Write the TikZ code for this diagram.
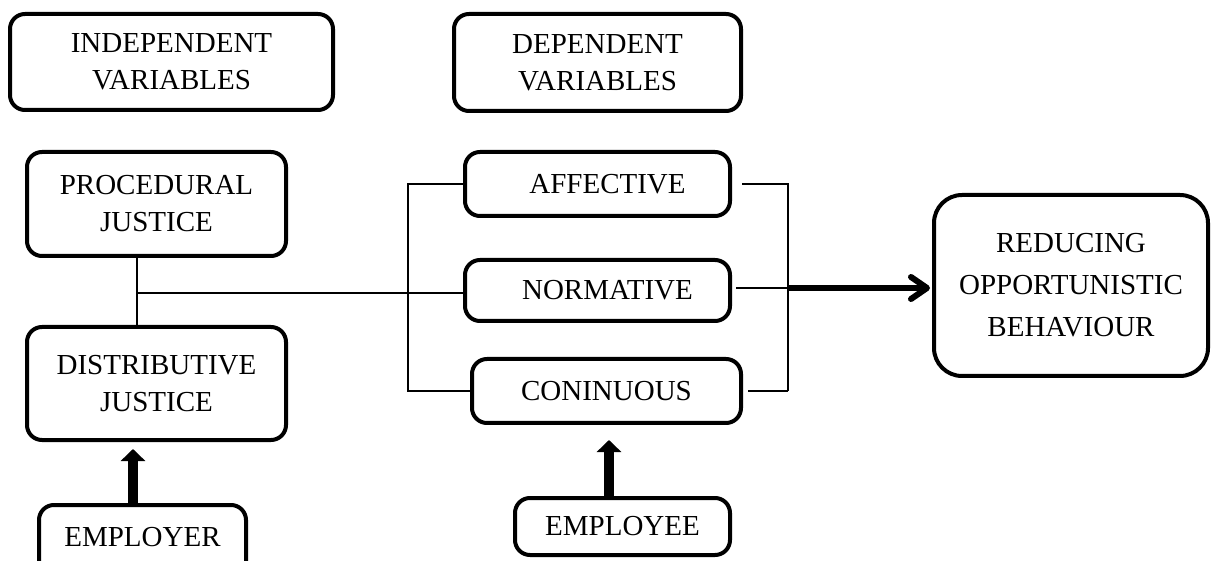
\documentclass[tikz,border=0pt]{standalone}
\usepackage{fontspec}
\setmainfont{Liberation Serif}
\usetikzlibrary{arrows.meta}
\begin{document}
\begin{tikzpicture}[x=1pt,y=-1pt,
  box/.style={draw, line width=4pt, rounded corners=15pt, align=center, inner sep=0pt,
    font=\fontsize{29}{37}\selectfont},
  thinline/.style={line width=1.5pt},
  bigarrow/.style={line width=6pt, -{Straight Barb[length=16pt,width=22pt,line cap=round,line join=round]}},
  uparrow/.style={line width=10pt, -{Triangle[length=12pt,width=24pt]}}
]
\clip (0,0) rectangle (1211,561);
\node[box, minimum width=323pt, minimum height=96pt] (indep) at (171.5,62) {INDEPENDENT\\VARIABLES};
\node[box, minimum width=287pt, minimum height=97pt] (dep) at (597.5,62.5) {DEPENDENT\\VARIABLES};
\node[box, minimum width=259pt, minimum height=104pt] (proc) at (156.5,204) {PROCEDURAL\\JUSTICE};
\node[box, minimum width=259pt, minimum height=113pt] (dist) at (156.5,383.5) {DISTRIBUTIVE\\JUSTICE};
\node[box, minimum width=265pt, minimum height=64pt] (aff) at (597.5,184) {\hspace*{20pt}AFFECTIVE};
\node[box, minimum width=265pt, minimum height=61pt] (norm) at (597.5,290.5) {\hspace*{20pt}NORMATIVE};
\node[box, minimum width=269pt, minimum height=64pt] (cont) at (606.5,391) {CONINUOUS};
\node[box, minimum width=274pt, minimum height=181pt, rounded corners=28pt,
  font=\fontsize{29}{42}\selectfont] (red) at (1071,285.5) {REDUCING\\OPPORTUNISTIC\\BEHAVIOUR};
\node[box, minimum width=207pt, minimum height=80pt] (emper) at (142.5,545) {};
\node[font=\fontsize{29}{37}\selectfont] (emperlbl) at (142.5,537) {EMPLOYER};
\node[box, minimum width=215pt, minimum height=57pt] (empee) at (622.5,526.5) {EMPLOYEE};

\coordinate (vx) at (137,293);
\coordinate (lb) at (408,288);
\coordinate (rb) at (788,288);
\coordinate (ax) at (133,0);
\coordinate (ex) at (609,0);

\draw[thinline] (vx |- proc.south) -- (vx |- dist.north);
\draw[thinline] (vx) -- (vx -| norm.west);
\draw[thinline] (aff.west) -- (lb |- aff.west) -- (lb |- cont.west) -- (cont.west);
\draw[thinline, shorten <=10pt] (aff.east) -- (rb |- aff.east) -- (rb |- cont.east);
\draw[thinline, shorten >=5pt] (rb |- cont.east) -- (cont.east);
\draw[thinline, shorten >=4pt] (rb) -- (rb -| norm.east);
\draw[bigarrow, shorten >=2pt] (rb) -- (rb -| red.west);
\draw[uparrow, shorten >=7pt] (ax |- emper.north) -- (ax |- dist.south);
\draw[uparrow, shorten >=15pt] (ex |- empee.north) -- (ex |- cont.south);
\end{tikzpicture}
\end{document}
